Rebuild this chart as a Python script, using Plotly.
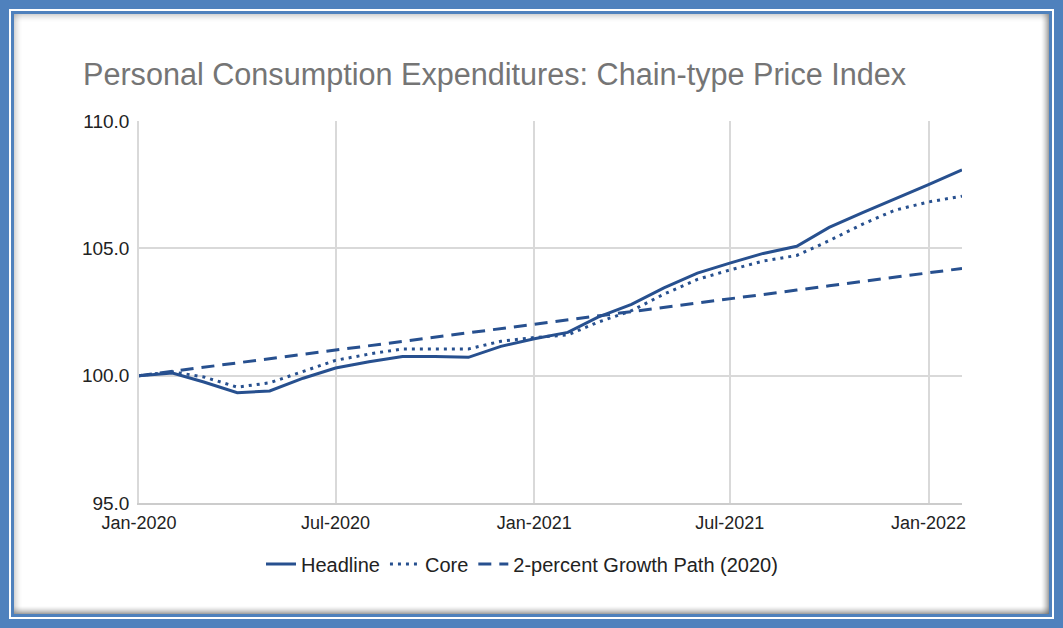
import plotly.graph_objects as go

# ---- data ----
months = ["2020-01-01", "2020-02-01", "2020-03-01", "2020-04-01", "2020-05-01", "2020-06-01",
          "2020-07-01", "2020-08-01", "2020-09-01", "2020-10-01", "2020-11-01", "2020-12-01",
          "2021-01-01", "2021-02-01", "2021-03-01", "2021-04-01", "2021-05-01", "2021-06-01",
          "2021-07-01", "2021-08-01", "2021-09-01", "2021-10-01", "2021-11-01", "2021-12-01",
          "2022-01-01", "2022-02-01"]
headline = [100.0, 100.1, 99.75, 99.33, 99.4, 99.9, 100.3, 100.55, 100.75, 100.75, 100.72, 101.15,
            101.45, 101.7, 102.3, 102.8, 103.45, 104.03, 104.42, 104.8, 105.08, 105.82, 106.4, 106.93,
            107.5, 108.08]
core = [100.0, 100.15, 99.95, 99.55, 99.72, 100.17, 100.6, 100.85, 101.05, 101.05, 101.05, 101.35,
        101.5, 101.6, 102.1, 102.55, 103.2, 103.78, 104.15, 104.5, 104.72, 105.3, 105.95, 106.5,
        106.82, 107.05]
growth = [100.0, 100.17, 100.33, 100.5, 100.66, 100.83, 100.99, 101.16, 101.33, 101.5, 101.67, 101.83,
          102.0, 102.17, 102.34, 102.51, 102.68, 102.85, 103.02, 103.19, 103.36, 103.53, 103.7, 103.87,
          104.04, 104.21]
series_names = ["Headline", "Core", "2-percent Growth Path (2020)"]
x_tick_vals = ["2020-01-01", "2020-07-01", "2021-01-01", "2021-07-01", "2022-01-01"]
x_tick_text = ["Jan-2020", "Jul-2020", "Jan-2021", "Jul-2021", "Jan-2022"]
y_tick_vals = [95, 100, 105, 110]
title_text = "Personal Consumption Expenditures: Chain-type Price Index"

# ---- style ----
W, H = 1063, 628
ML, MR, MT, MB = 139, 101, 121, 125
PW, PH = W - ML - MR, H - MT - MB
LINE = "#27508f"
FRAME = "#4f81bd"
FONT = "Liberation Sans, Arial, sans-serif"


def px(x):
    return (x - ML) / PW


def py(y):
    return (H - MB - y) / PH


fig = go.Figure()
fig.add_trace(go.Scatter(x=months, y=headline, name=series_names[0], mode="lines",
                         line=dict(color=LINE, width=3)))
fig.add_trace(go.Scatter(x=months, y=core, name=series_names[1], mode="lines",
                         line=dict(color=LINE, width=3, dash="3px,5px")))
fig.add_trace(go.Scatter(x=months, y=growth, name=series_names[2], mode="lines",
                         line=dict(color=LINE, width=3, dash="13px,8px")))

shapes = []


def rect(x0, y0, x1, y1, color):
    shapes.append(dict(type="rect", xref="paper", yref="paper", layer="below",
                       x0=px(x0), x1=px(x1), y0=py(y1), y1=py(y0),
                       fillcolor=color, line=dict(width=0)))


rect(9, 9, 1054, 619, "white")
rect(11, 11, 1052, 617, FRAME)
rect(14, 14, 1049, 614, "white")
# inset shadow
for i in range(8):
    a_dark = 0.55 * (1 - i / 8) ** 1.6
    a_light = 0.30 * (1 - i / 8) ** 1.6
    col_d = f"rgba(90,90,90,{a_dark:.3f})"
    col_l = f"rgba(120,120,120,{a_light:.3f})"
    rect(1048 - i, 14, 1049 - i, 614, col_d)   # right
    rect(14, 613 - i, 1049, 614 - i, col_d)    # bottom
    rect(14 + i, 14, 15 + i, 614, col_l)       # left
    rect(14, 14 + i, 1049, 15 + i, col_l)      # top

fig.update_layout(
    width=W, height=H,
    margin=dict(l=ML, r=MR, t=MT, b=MB),
    paper_bgcolor=FRAME,
    plot_bgcolor="rgba(0,0,0,0)",
    font=dict(family=FONT, size=18, color="#222222"),
    title=dict(text=title_text, font=dict(size=30.6, color="#757575", family=FONT),
               x=83 / W, xref="container", xanchor="left",
               y=1 - 74 / H, yref="container", yanchor="middle"),
    showlegend=True,
    legend=dict(orientation="h", xref="container", yref="container",
                x=522 / W, xanchor="center", y=1 - 564 / H, yanchor="middle",
                font=dict(size=20, color="#222222"), itemwidth=30,
                bgcolor="rgba(0,0,0,0)"),
    shapes=shapes,
    xaxis=dict(type="date", range=["2020-01-01", "2022-02-01"],
               tickvals=x_tick_vals, ticktext=x_tick_text,
               showgrid=True, gridcolor="#d9d9d9", gridwidth=1.5,
               showline=True, linecolor="#cccccc", linewidth=1.5,
               ticks="outside", ticklen=3, tickcolor="rgba(0,0,0,0)",
               tickfont=dict(size=18, color="#222222"),
               zeroline=False),
    yaxis=dict(range=[95, 110], tickvals=y_tick_vals, tickformat=".1f",
               showgrid=True, gridcolor="#d9d9d9", gridwidth=1.5,
               showline=True, linecolor="#d9d9d9", linewidth=1.5,
               ticks="outside", ticklen=4, tickcolor="rgba(0,0,0,0)",
               tickfont=dict(size=19, color="#222222"),
               zeroline=False),
)

fig.write_html("out.html", config={"displayModeBar": False},
               post_script="document.body.style.margin='0';document.body.style.overflow='hidden';")
